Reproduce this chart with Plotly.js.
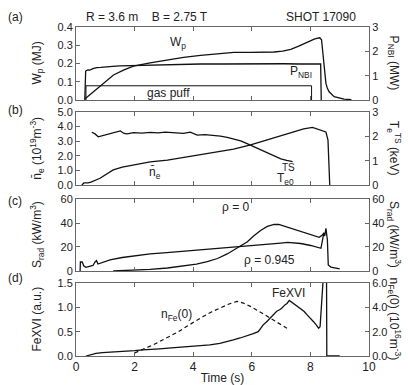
<!DOCTYPE html>
<html>
<head>
<meta charset="utf-8">
<script src="https://cdn.plot.ly/plotly-3.0.1.min.js"></script>
<style>html,body{margin:0;padding:0;background:#fff;}#chart{width:408px;height:385px;}</style>
</head>
<body>
<div id="chart"></div>
<script>
// ---------- Panel (a) ----------
const wpT = [0.30,0.59,0.94,1.28,1.62,1.96,2.53,3.10,3.67,4.25,4.93,5.39,5.96,6.40,6.76,7.05,7.33,7.60,7.79,7.98,8.13,8.25,8.32,8.38,8.45,8.53,8.58,8.64,8.81,9.15,9.40];
const wpV = [0.005,0.045,0.091,0.137,0.164,0.186,0.204,0.219,0.234,0.245,0.256,0.261,0.261,0.262,0.263,0.268,0.278,0.295,0.310,0.323,0.334,0.339,0.341,0.330,0.219,0.091,0.064,0.045,0.018,0.005,0.002];
const pnbiT = [0.30,0.33,0.40,0.47,0.58,0.70,0.85,1.05,1.25,1.50,1.80,2.19,2.60,3.10,3.60,4.25,5.00,5.60,6.10,6.53,7.10,7.60,8.00,8.35,8.37];
const pnbiV = [0.00,1.19,1.24,1.23,1.29,1.33,1.34,1.37,1.38,1.40,1.41,1.43,1.45,1.47,1.47,1.48,1.48,1.49,1.48,1.48,1.49,1.48,1.48,1.48,0.00];
const gasT = [0.34,0.34,8.04,8.04];
const gasV = [0.0,0.078,0.078,0.0];
// ---------- Panel (b) ----------
const neT = [0.20,0.27,0.41,0.51,0.82,1.03,1.27,1.58,1.95,2.53,3.12,3.66,4.25,4.83,5.38,5.96,6.54,6.99,7.43,7.77,8.07,8.18,8.29,8.46,8.53,8.60,8.63,8.66];
const neV = [0.00,0.14,0.14,0.20,0.46,0.75,1.03,1.23,1.37,1.58,1.71,1.88,2.05,2.26,2.45,2.74,3.08,3.36,3.61,3.84,3.95,3.87,3.77,3.70,3.63,3.08,1.71,0.00];
const teT = [0.54,0.65,0.76,0.96,1.16,1.37,1.51,1.64,1.75,1.96,2.25,2.53,2.80,3.05,3.35,3.66,3.90,4.14,4.40,4.69,4.93,5.16,5.38,5.62,5.82,6.07,6.30,6.53,6.75,6.99,7.19,7.39];
const teV = [2.17,2.10,1.98,2.05,2.12,2.17,2.22,2.12,2.10,2.15,2.13,2.16,2.14,2.17,2.13,2.12,2.17,2.05,2.07,2.05,2.01,1.96,1.89,1.81,1.71,1.57,1.46,1.30,1.19,1.07,1.01,0.96];
// ---------- Panel (c) ----------
const s945T = [0.14,0.15,0.21,0.27,0.34,0.48,0.58,0.65,0.70,0.75,0.96,1.16,1.58,1.95,2.53,3.10,3.66,4.25,4.83,5.38,5.96,6.53,6.99,7.22,7.43,7.67,8.01,8.25,8.36,8.46];
const s945V = [0.0,7.5,7.5,4.2,3.1,3.75,4.6,7.5,8.6,5.8,7.5,9.2,11.25,12.5,14.2,15.25,16.4,17.5,18.3,19.4,20.8,22.25,23.3,23.9,23.3,22.9,21.25,19.6,18.9,31.7];
const s0T = [1.27,1.85,2.53,3.12,3.66,4.11,4.48,4.83,5.16,5.48,5.85,6.06,6.30,6.53,6.76,6.92,7.09,7.33,7.67,8.01,8.30,8.41,8.46,8.49,8.53,8.58,8.61,8.70,8.87,9.00];
const s0V = [0.0,0.4,1.4,2.5,4.2,5.8,7.75,10.4,14.2,19.2,24.4,29.2,33.75,37.1,38.75,38.75,37.5,35.4,32.9,30.4,28.1,30.0,31.7,29.2,35.6,25.8,5.0,3.3,2.25,1.7];
// ---------- Panel (d) ----------
const feT = [0.34,0.50,0.68,0.90,1.14,1.40,1.71,2.00,2.28,2.55,2.85,3.15,3.42,3.70,4.00,4.30,4.57,4.91,5.15,5.37,5.60,5.82,6.05,6.22,6.39,6.50,6.62,6.75,6.85,6.95,7.02,7.13,7.20,7.28,7.35,7.42,7.55,7.65,7.78,7.88,8.00,8.10,8.20,8.28,8.33,8.45,8.55,8.56,9.00];
const feV = [0.00,0.03,0.055,0.07,0.076,0.09,0.096,0.11,0.124,0.13,0.145,0.16,0.172,0.18,0.193,0.21,0.227,0.26,0.29,0.33,0.37,0.41,0.46,0.50,0.64,0.70,0.78,0.86,0.92,0.95,0.98,1.05,1.08,1.14,1.11,1.07,1.02,0.98,0.92,0.85,0.78,0.71,0.64,0.57,0.60,1.70,1.70,0.00,0.00];
const nfeT = [2.00,2.30,2.63,2.90,3.20,3.50,3.77,4.05,4.34,4.62,4.91,5.20,5.49,5.71,5.95,6.17,6.40,6.63,6.90,7.20];
const nfeV = [0.25,0.55,0.91,1.25,1.60,2.00,2.42,2.85,3.25,3.62,3.94,4.25,4.49,4.35,4.08,3.80,3.45,3.11,2.70,2.28];

const tickTime = [0,2,4,6,8,10];

const FONT = 'Liberation Sans, Arial, sans-serif';
const AX = '#666';
const TXT = '#222';
const TICKSIZE = 11;
function line(x, y, xa, ya, extra) {
  return Object.assign({x: x, y: y, xaxis: xa, yaxis: ya, type: 'scatter', mode: 'lines',
    line: {color: '#111', width: 1.3}, hoverinfo: 'skip', showlegend: false}, extra || {});
}
const traces = [
  line(wpT, wpV, 'x', 'y'),
  line(gasT, gasV, 'x', 'y', {line: {color: '#111', width: 1}}),
  line(pnbiT, pnbiV, 'x', 'y2'),
  line(neT, neV, 'x2', 'y3'),
  line(teT, teV, 'x2', 'y4'),
  line(s945T, s945V, 'x3', 'y5'),
  line(s0T, s0V, 'x3', 'y6'),
  line(feT, feV, 'x4', 'y7'),
  line(nfeT, nfeV, 'x4', 'y8', {line: {color: '#111', width: 1.2, dash: '4px,3px'}})
];

function xax(anchor, labels) {
  return {anchor: anchor, range: [0, 10], tickvals: tickTime, ticktext: tickTime.map(String),
    showticklabels: labels, ticks: 'inside', ticklen: 4, tickcolor: AX, showline: true, linecolor: AX,
    linewidth: 1, mirror: 'ticks', showgrid: false, zeroline: false,
    tickfont: {family: FONT, size: 12, color: TXT}};
}
function yl(anchor, domain, range, vals, fmt) {
  return {anchor: anchor, domain: domain, range: range, tickvals: vals, ticktext: vals.map(v => v.toFixed(fmt)),
    ticks: 'inside', ticklen: 4, tickcolor: AX, showline: true, linecolor: AX, linewidth: 1,
    showgrid: false, zeroline: false, tickfont: {family: FONT, size: TICKSIZE, color: TXT}};
}
function yr(anchor, over, range, vals, fmt) {
  return {anchor: anchor, overlaying: over, side: 'right', range: range, tickvals: vals,
    ticktext: vals.map(v => v.toFixed(fmt)), ticks: 'inside', ticklen: 4, tickcolor: AX, showline: true,
    linecolor: AX, linewidth: 1, showgrid: false, zeroline: false,
    tickfont: {family: FONT, size: TICKSIZE, color: TXT}};
}

const dA = [0.7781, 1], dB = [0.5198, 0.7416], dC = [0.2584, 0.4772], dD = [0, 0.2219];

function ann(text, x, y, xref, yref, extra) {
  return Object.assign({text: text, x: x, y: y, xref: xref, yref: yref, showarrow: false,
    font: {family: FONT, size: 12, color: TXT}, xanchor: 'center', yanchor: 'middle'}, extra || {});
}
const annotations = [
  ann('(a)', -0.208, 1.03, 'paper', 'paper'),
  ann('(b)', -0.208, 0.748, 'paper', 'paper'),
  ann('(c)', -0.208, 0.471, 'paper', 'paper'),
  ann('(d)', -0.208, 0.238, 'paper', 'paper'),
  ann('R = 3.6 m    B = 2.75 T', 0.242, 1.03, 'paper', 'paper'),
  ann('SHOT 17090', 0.836, 1.03, 'paper', 'paper'),
  // axis titles left
  ann('W<sub>p</sub> (MJ)', -0.133, 0.889, 'paper', 'paper', {textangle: -90}),
  ann('n̄<sub>e</sub> (10<sup>19</sup>m<sup>-3</sup>)', -0.133, 0.630, 'paper', 'paper', {textangle: -90}),
  ann('S<sub>rad</sub> (kW/m<sup>3</sup>)', -0.133, 0.368, 'paper', 'paper', {textangle: -90}),
  ann('FeXVI (a.u.)', -0.133, 0.111, 'paper', 'paper', {textangle: -90}),
  // axis titles right
  ann('P<sub>NBI</sub> (MW)', 1.085, 0.889, 'paper', 'paper', {textangle: 90}),
  ann('T<sub>e</sub><sup>TS</sup> (keV)', 1.085, 0.630, 'paper', 'paper', {textangle: 90}),
  ann('S<sub>rad</sub> (kW/m<sup>3</sup>)', 1.085, 0.368, 'paper', 'paper', {textangle: 90}),
  ann('n<sub>Fe</sub>(0) (10<sup>16</sup>m<sup>-3</sup>)', 1.085, 0.111, 'paper', 'paper', {textangle: 90}),
  // in-plot labels
  ann('W<sub>p</sub>', 3.49, 0.312, 'x', 'y'),
  ann('P<sub>NBI</sub>', 7.67, 0.153, 'x', 'y'),
  ann('gas puff', 3.15, 0.038, 'x', 'y'),
  ann('n̄<sub>e</sub>', 2.7, 0.82, 'x2', 'y3'),
  ann('T<sub>e0</sub>', 7.16, 0.40, 'x2', 'y3'),
  ann('TS', 7.25, 1.17, 'x2', 'y3', {font: {family: FONT, size: 10, color: TXT}}),
  ann('ρ = 0', 5.45, 53, 'x3', 'y5'),
  ann('ρ = 0.945', 6.59, 9.2, 'x3', 'y5'),
  ann('n<sub>Fe</sub>(0)', 3.42, 0.85, 'x4', 'y7'),
  ann('FeXVI', 7.25, 1.29, 'x4', 'y7')
];

const layout = {
  width: 408, height: 385,
  margin: {l: 76, r: 39, t: 27, b: 29},
  paper_bgcolor: '#fff', plot_bgcolor: '#fff',
  font: {family: FONT, size: 12, color: TXT},
  showlegend: false,
  xaxis: xax('y', false),
  xaxis2: xax('y3', false),
  xaxis3: xax('y5', false),
  xaxis4: Object.assign(xax('y7', true), {title: {text: 'Time (s)', standoff: 2, font: {family: FONT, size: 12, color: TXT}}}),
  yaxis: yl('x', dA, [0, 0.4], [0, 0.1, 0.2, 0.3, 0.4], 1),
  yaxis2: yr('x', 'y', [0, 3], [0, 1, 2, 3], 0),
  yaxis3: yl('x2', dB, [0, 5], [0, 1, 2, 3, 4, 5], 1),
  yaxis4: yr('x2', 'y3', [0, 3], [0, 1, 2, 3], 0),
  yaxis5: yl('x3', dC, [0, 60], [0, 20, 40, 60], 0),
  yaxis6: yr('x3', 'y5', [0, 60], [0, 20, 40, 60], 0),
  yaxis7: yl('x4', dD, [0, 1.5], [0, 0.5, 1.0, 1.5], 1),
  yaxis8: yr('x4', 'y7', [0, 6], [0, 2, 4, 6], 1),
  annotations: annotations
};

Plotly.newPlot('chart', traces, layout, {staticPlot: true, displayModeBar: false});
</script>
</body>
</html>
